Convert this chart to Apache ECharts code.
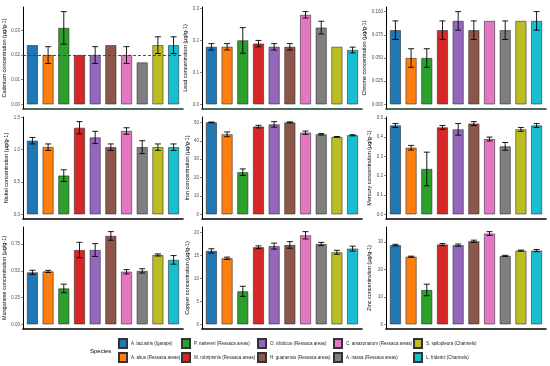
<!DOCTYPE html>
<html><head><meta charset="utf-8">
<script src="https://cdn.jsdelivr.net/npm/echarts@6/dist/echarts.min.js"></script>
<style>html,body{margin:0;padding:0;background:#fff}#c{width:550px;height:366px}</style>
</head><body><div id="c"></div>
<script>
// ---- data ----
const species = ['A. lacustris (Igarapé)','A. altus (Ressaca areas)','P. nattereri (Ressaca areas)','M. rubripinnis (Ressaca areas)','O. niloticus (Ressaca areas)','H. guanensis (Ressaca areas)','C. amazonarum (Ressaca areas)','A. nassa (Ressaca areas)','S. spilopleura (Channels)','L. friderici (Channels)'];
const speciesColors = ['#1f77b4','#ff7f0e','#2ca02c','#d62728','#9467bd','#8c564b','#e377c2','#7f7f7f','#bcbd22','#17becf'];

const cadmium = [0.024,0.020,0.031,0.020,0.020,0.024,0.020,0.017,0.024,0.024];
const cadmiumErr = [0,0.0034,0.0066,0,0.0034,0,0.0034,0,0.0034,0.0034];
const cadmiumTicks = ['0.00','0.01','0.02','0.03'];
const cadmiumLimit = 0.017;

const lead = [0.18,0.18,0.20,0.19,0.18,0.18,0.28,0.24,0.18,0.17];
const leadErr = [0.01,0.01,0.04,0.01,0.01,0.01,0.01,0.02,0,0.009];
const leadTicks = ['0.0','0.1','0.2','0.3'];

const chrome = [0.08,0.05,0.05,0.08,0.09,0.08,0.09,0.08,0.09,0.09];
const chromeErr = [0.01,0.01,0.01,0.01,0.01,0.01,0,0.01,0,0.01];
const chromeTicks = ['0.000','0.025','0.050','0.075','0.100'];

const nickel = [1.14,1.04,0.60,1.34,1.19,1.04,1.29,1.04,1.04,1.04];
const nickelErr = [0.05,0.05,0.09,0.095,0.095,0.05,0.05,0.10,0.05,0.05];
const nickelTicks = ['0.0','0.5','1.0','1.5'];

const iron = [50.0,43.5,22.9,47.7,48.9,50.0,44.4,43.5,42.1,43.0];
const ironErr = [0.2,1.3,1.8,0.7,1.5,0.3,0.9,0.4,0.2,0.3];
const ironTicks = ['0','10','20','30','40','50'];

const mercury = [0.46,0.345,0.235,0.45,0.44,0.47,0.39,0.352,0.44,0.46];
const mercuryErr = [0.01,0.012,0.087,0.01,0.03,0.01,0.01,0.02,0.01,0.01];
const mercuryTicks = ['0.0','0.1','0.2','0.3','0.4','0.5'];

const manganese = [0.486,0.495,0.336,0.695,0.695,0.827,0.492,0.50,0.649,0.603];
const manganeseErr = [0.02,0.01,0.04,0.072,0.06,0.04,0.02,0.02,0.01,0.04];
const manganeseTicks = ['0.00','0.25','0.50','0.75'];

const copper = [16.0,14.4,7.2,16.8,17.05,17.3,19.4,17.5,15.7,16.5];
const copperErr = [0.47,0.25,1.1,0.3,0.65,0.72,0.8,0.36,0.43,0.54];
const copperTicks = ['0','5','10','15','20'];

const zinc = [28.8,24.6,12.5,29.0,28.8,30.2,33.0,24.9,26.8,26.8];
const zincErr = [0.3,0.2,2.1,0.4,0.4,0.4,0.7,0.2,0.2,0.4];
const zincTicks = ['0','10','20','30'];

const titles = ['Cadmium concentration (µg/g-1)','Lead concentration (µg/g-1)','Chrome concentration (µg/g-1)','Nickel concentration (µg/g-1)','Iron concentration (µg/g-1)','Mercury concentration (µg/g-1)','Manganese concentration (µg/g-1)','Copper concentration (µg/g-1)','Zinc concentration (µg/g-1)'];

// ---- layout ----
const panels = [
  [cadmium,cadmiumErr,cadmiumTicks],[lead,leadErr,leadTicks],[chrome,chromeErr,chromeTicks],
  [nickel,nickelErr,nickelTicks],[iron,ironErr,ironTicks],[mercury,mercuryErr,mercuryTicks],
  [manganese,manganeseErr,manganeseTicks],[copper,copperErr,copperTicks],[zinc,zincErr,zincTicks]
];
const colLeft = [23,202,386], rowTop = [7,117,227], pw = 160, ph = 102;
const nameGaps = [12,11,14,12,11,14,16,11,14];
const FONT = '"Liberation Sans", Arial, sans-serif';

const grids=[], xAxes=[], yAxes=[], series=[];
panels.forEach((p,i)=>{
  const [vals,errs,ticks] = p;
  const r = Math.floor(i/3), c = i%3;
  grids.push({left:colLeft[c], top:rowTop[r], width:pw, height:ph, containLabel:false});
  let hi = 0; vals.forEach((v,k)=>{hi=Math.max(hi,v+errs[k]);});
  const tickVals = ticks.map(Number);
  xAxes.push({gridIndex:i,type:'value',min:0.4,max:10.6,
    axisLine:{show:true,onZero:false,lineStyle:{color:r===0?'#0b3f2a':'#000',width:1.6}},
    axisTick:{show:false},axisLabel:{show:false},splitLine:{show:false}});
  yAxes.push({gridIndex:i,type:'value',min:-0.05*hi,max:1.05*hi,
    name:titles[i],nameLocation:'middle',nameRotate:90,nameGap:nameGaps[i],
    nameTextStyle:{fontSize:5.5,color:'#000',fontFamily:FONT},
    axisLine:{show:true,onZero:false,lineStyle:{color:'#000',width:1}},
    axisTick:{show:true,length:2,customValues:tickVals,lineStyle:{color:'#333',width:0.6}},
    axisLabel:{show:true,customValues:tickVals,fontSize:4.5,color:'#4d4d4d',margin:3,fontFamily:FONT,
      formatter:(v)=>{const k=tickVals.findIndex(t=>Math.abs(t-v)<1e-9);return k>=0?ticks[k]:'';}},
    splitLine:{show:false}});
  const barSeries = {type:'bar',xAxisIndex:i,yAxisIndex:i,barWidth:11,silent:true,
    data:vals.map((v,k)=>({value:[k+1,v],itemStyle:{color:speciesColors[k]}})),
    itemStyle:{borderColor:'rgba(40,40,40,0.8)',borderWidth:0.7},z:2};
  if(i===0){
    barSeries.markLine={silent:true,symbol:'none',label:{show:false},
      lineStyle:{type:[3,2],color:'#2d4a2d',width:0.9},data:[{yAxis:cadmiumLimit}]};
  }
  series.push(barSeries);
  series.push({type:'custom',xAxisIndex:i,yAxisIndex:i,silent:true,z:5,
    data:vals.map((v,k)=>[k+1,v,errs[k]]),
    renderItem:(params,api)=>{
      const x=api.value(0),v=api.value(1),e=api.value(2);
      if(!e) return {type:'group',children:[]};
      const a=api.coord([x,v+e]), b=api.coord([x,v-e]), hw=3;
      const st={stroke:'#000',lineWidth:0.9};
      return {type:'group',children:[
        {type:'line',shape:{x1:a[0],y1:a[1],x2:b[0],y2:b[1]},style:st},
        {type:'line',shape:{x1:a[0]-hw,y1:a[1],x2:a[0]+hw,y2:a[1]},style:st},
        {type:'line',shape:{x1:b[0]-hw,y1:b[1],x2:b[0]+hw,y2:b[1]},style:st}
      ]};
    }});
});
// hidden grid for legend-only series
grids.push({left:-200,top:-200,width:10,height:10});
xAxes.push({gridIndex:9,type:'value',show:false});
yAxes.push({gridIndex:9,type:'value',show:false});
species.forEach((s,k)=>{
  series.push({type:'bar',name:s,xAxisIndex:9,yAxisIndex:9,data:[],
    itemStyle:{color:speciesColors[k],borderColor:'#333',borderWidth:0.7}});
});
const legendCols = [118,181,257,333,413];
const legends = legendCols.map((x,j)=>({
  left:x,top:338,orient:'vertical',padding:0,itemWidth:8,itemHeight:9,itemGap:3,
  icon:'rect',selectedMode:false,data:[species[2*j],species[2*j+1]],
  textStyle:{fontSize:4.5,color:'#222',fontFamily:FONT,padding:[0,0,0,-1]}
}));

const chart = echarts.init(document.getElementById('c'),null,{renderer:'canvas'});
chart.setOption({
  animation:false,backgroundColor:'#fff',
  grid:grids,xAxis:xAxes,yAxis:yAxes,series:series,legend:legends,
  graphic:[{type:'text',left:90,top:348,style:{text:'Species',fontSize:6,fill:'#000',fontFamily:FONT}}]
});
</script></body></html>
